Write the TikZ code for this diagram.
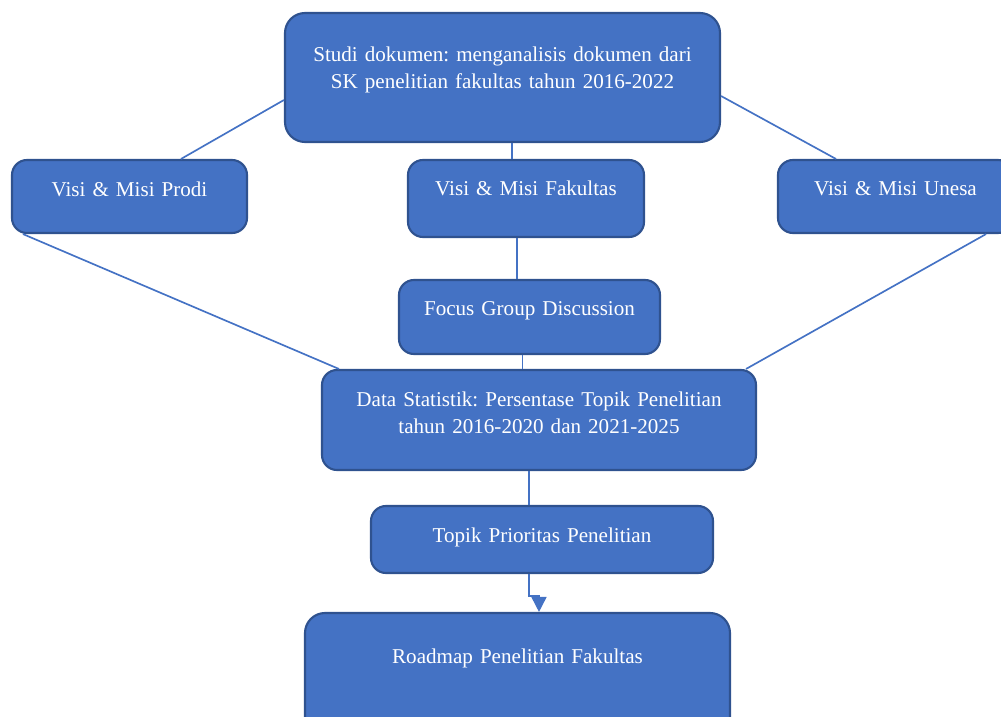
\documentclass[tikz,border=0pt]{standalone}
\usepackage{fontspec}
\setmainfont{Liberation Serif}
\usepackage{xcolor}
\usepackage{tikz}
\usetikzlibrary{arrows.meta}

\definecolor{boxfill}{HTML}{4472C4}
\definecolor{boxline}{HTML}{2F528F}
\definecolor{linkblue}{HTML}{4472C4}

\begin{document}
\frenchspacing
\begin{tikzpicture}[
    box/.style={draw=boxline, fill=boxfill, line width=1.2pt, rounded corners=0.3cm,
      text=white, align=center, inner xsep=0pt, inner ysep=0pt,
      font=\fontsize{12}{15.5}\selectfont},
    link/.style={draw=linkblue, line width=0.95pt},
    arrow/.style={link, -{Triangle[width=0.3cm, length=0.3cm]}}
  ]
    \useasboundingbox (0,0) rectangle (20.02,-14.34);
    \clip (0,0) rectangle (20.02,-14.34);

    \node[box, rounded corners=0.4cm, text width=8.7cm, text height=0.96cm, text depth=1.62cm]
      (studi) at (10.05,-1.55) {Studi dokumen: menganalisis dokumen dari\\
      SK penelitian fakultas tahun 2016-2022};
    \node[box, text width=4.7cm, text height=0.72cm, text depth=0.74cm]
      (prodi) at (2.59,-3.93) {Visi \& Misi Prodi};
    \node[box, text width=4.72cm, text height=0.70cm, text depth=0.84cm]
      (fakultas) at (10.52,-3.97) {Visi \& Misi Fakultas};
    \node[box, text width=4.7cm, text height=0.70cm, text depth=0.76cm]
      (unesa) at (17.91,-3.93) {Visi \& Misi Unesa};
    \node[box, text width=5.22cm, text height=0.70cm, text depth=0.78cm]
      (fgd) at (10.59,-6.34) {Focus Group Discussion};
    \node[box, text width=8.68cm, text height=0.72cm, text depth=1.28cm]
      (statistik) at (10.78,-8.40) {Data Statistik: Persentase Topik Penelitian\\
      tahun 2016-2020 dan 2021-2025};
    \node[box, text width=6.84cm, text height=0.72cm, text depth=0.62cm]
      (prioritas) at (10.84,-10.79) {Topik Prioritas Penelitian};
    \node[box, rounded corners=0.4cm, text width=8.5cm, text height=1.0cm, text depth=1.58cm]
      (roadmap) at (10.35,-13.55) {Roadmap Penelitian Fakultas};

    \draw[link] ([yshift=-0.45cm]studi.west) -- ([xshift=1.03cm]prodi.north);
    \draw[link] ([yshift=-0.37cm]studi.east) -- ([xshift=-1.19cm]unesa.north);
    \draw[link] ([xshift=0.19cm]studi.south) -- ([xshift=-0.28cm]fakultas.north);
    \draw[link] ([xshift=0.24cm]prodi.south west) -- ([xshift=0.36cm]statistik.north west);
    \draw[link] ([xshift=-0.56cm]unesa.south east) -- ([xshift=-0.22cm]statistik.north east);
    \draw[link] ([xshift=-0.18cm]fakultas.south) -- ([xshift=-0.18cm]fakultas.south |- fgd.north);
    \draw[link] ([xshift=-0.14cm]fgd.south) -- ([xshift=-0.14cm]fgd.south |- statistik.north);
    \draw[link] ([xshift=-0.2cm]statistik.south) -- ([xshift=-0.2cm]statistik.south |- prioritas.north);
    \draw[arrow] ([xshift=-0.26cm]prioritas.south) -- ++(0,-0.44) -| ([xshift=0.43cm]roadmap.north);
  \end{tikzpicture}
\end{document}
